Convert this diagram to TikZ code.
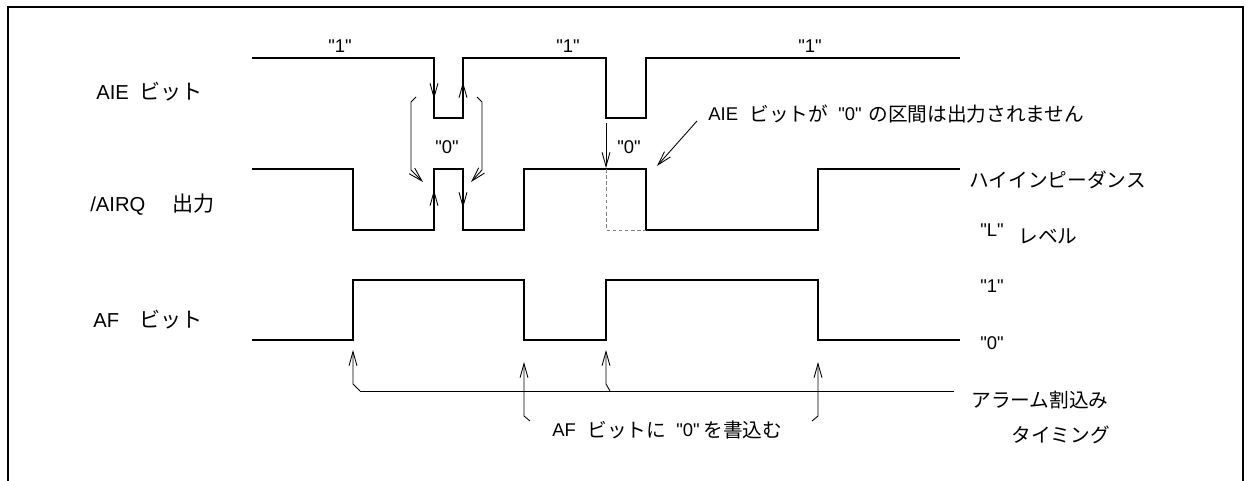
\documentclass[tikz,border=0pt]{standalone}
\usepackage{fontspec}
\setmainfont{Liberation Sans}[Ligatures=TeXOff]
\newfontfamily\jpfont{Noto Sans CJK JP}
\usetikzlibrary{arrows.meta}
\begin{document}
\begin{tikzpicture}[x=0.02cm,y=-0.02cm,
  wave/.style={line width=1.1pt, line join=miter},
  arr/.style={line width=0.5pt, -{Straight Barb[length=8pt,width=4.5pt]}},
  plain/.style={line width=0.5pt},
  lat/.style={inner sep=0, anchor=base west, font=\fontsize{10.5}{12}\selectfont},
  latb/.style={inner sep=0, anchor=base west, font=\fontsize{11.5}{13}\selectfont},
  latc/.style={inner sep=0, anchor=base, font=\fontsize{10.5}{12}\selectfont},
  jps/.style={inner sep=0, anchor=base west, font=\jpfont\fontsize{11.2}{13}\selectfont},
  jpb/.style={inner sep=0, anchor=base west, font=\jpfont\fontsize{12}{14}\selectfont},
]
\useasboundingbox (0,0) rectangle (1250,480);
\begin{scope}
\clip (0,0) rectangle (1250,480);
\draw[line width=1.5pt] (8,7) rectangle (1243,520);
\end{scope}

% signal labels
\node[latb] (laie1)  at (96,99)   {AIE};
\node[jpb]  (laie2)  at (139,99)  {ビット};
\node[latb] (lairq1) at (90,211)  {/AIRQ};
\node[jpb]  (lairq2) at (172,211) {出力};
\node[latb] (laf1)   at (93,327)  {AF};
\node[jpb]  (laf2)   at (139,327) {ビット};

% AIE waveform
\draw[wave] (252,58) -- (434,58) -- (434,118) -- (463,118) -- (463,58) -- (606,58)
  -- (606,118) -- (646,118) -- (646,58) -- (960,58);
% /AIRQ waveform
\draw[wave] (252,169) -- (353,169) -- (353,230) -- (434,230) -- (434,169) -- (463,169)
  -- (463,230) -- (524,230) -- (524,169) -- (646,169) -- (646,230) -- (818,230)
  -- (818,169) -- (960,169);
\draw[line width=0.5pt, gray, dash pattern=on 2pt off 1.5pt] (606,169) -- (606,230) -- (646,230);
% AF waveform
\draw[wave] (252,340) -- (353,340) -- (353,280) -- (524,280) -- (524,340) -- (606,340)
  -- (606,280) -- (818,280) -- (818,340) -- (960,340);

% level labels
\node[latc] (one1) at (340,52) {"1"};
\node[latc] (one2) at (568,52) {"1"};
\node[latc] (one3) at (810,52) {"1"};
\node[latc] (zero1) at (447,153) {"0"};
\node[latc] (zero2) at (629,153) {"0"};

% edge arrows
\coordinate (a1s) at (434,82);  \coordinate (a1e) at (434,99);
\coordinate (a2s) at (463,99);  \coordinate (a2e) at (463,82);
\coordinate (a3s) at (434,207); \coordinate (a3e) at (434,190);
\coordinate (a4s) at (463,191); \coordinate (a4e) at (463,208);
\draw[arr] (a1s) -- (a1e);
\draw[arr] (a2s) -- (a2e);
\draw[arr] (a3s) -- (a3e);
\draw[arr] (a4s) -- (a4e);

% bracket connectors
\coordinate (bl0) at (416,97); \coordinate (bl1) at (411,102);
\coordinate (bl2) at (411,170); \coordinate (bl3) at (423,182);
\draw[arr] (bl0) -- (bl1) -- (bl2) -- (bl3);
\coordinate (br0) at (477,97); \coordinate (br1) at (482,102);
\coordinate (br2) at (482,170); \coordinate (br3) at (471,182);
\draw[arr] (br0) -- (br1) -- (br2) -- (br3);

% "0" arrow
\coordinate (z0) at (606,123); \coordinate (z1) at (606,168);
\draw[arr] (z0) -- (z1);

% annotation
\node[lat] (note1) at (708,120) {AIE};
\node[jps] (note2) at (749,121) {ビットが};
\node[lat] (note3) at (838,120) {"0"};
\node[jps] (note4) at (868,121) {の区間は出力されません};
\coordinate (n0) at (697,121); \coordinate (n1) at (657,166);
\draw[arr] (n0) -- (n1);

% right labels
\node[jps] (hiz) at (969,187) {ハイインピーダンス};
\node[lat] (lq)  at (980,236) {"L"};
\node[jps] (lv)  at (1018,243) {レベル};
\node[lat] (r1)  at (980,292) {"1"};
\node[lat] (r0)  at (980,349) {"0"};
\node[jps] (al1) at (971,407) {アラーム割込み};
\node[jps] (al2) at (1011,442) {タイミング};

% interrupt timing line
\coordinate (h0) at (360,391); \coordinate (h1) at (954,391);
\draw[plain] (h0) -- (h1);
\coordinate (t1a) at (353,384); \coordinate (t1b) at (353,350);
\draw[arr] (h0) -- (t1a) -- (t1b);
\coordinate (t3o) at (610,391); \coordinate (t3a) at (606,384); \coordinate (t3b) at (606,350);
\draw[arr] (t3o) -- (t3a) -- (t3b);

% write "0" arrows
\coordinate (w1o) at (530,421); \coordinate (w1a) at (524,416); \coordinate (w1b) at (524,362);
\draw[arr] (w1o) -- (w1a) -- (w1b);
\coordinate (w2o) at (812,421); \coordinate (w2a) at (818,416); \coordinate (w2b) at (818,362);
\draw[arr] (w2o) -- (w2a) -- (w2b);
\node[lat] (wr1) at (552,436) {AF};
\node[jps] (wr2) at (587,437) {ビットに};
\node[lat] (wr3) at (676,436) {"0"};
\node[jps] (wr4) at (703,437) {を書込む};
\end{tikzpicture}
\end{document}
